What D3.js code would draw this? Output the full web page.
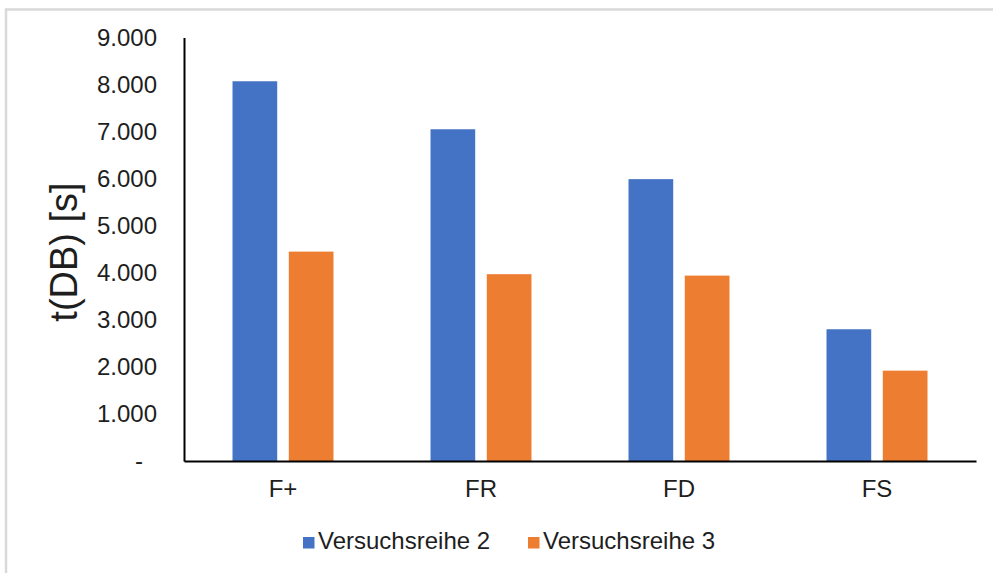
<!DOCTYPE html>
<html>
<head>
<meta charset="utf-8">
<script src="https://cdn.jsdelivr.net/npm/d3@7"></script>
<style>
  html, body { margin: 0; padding: 0; background: #fff; }
  svg { display: block; }
  text { font-family: "Liberation Sans", Arial, sans-serif; fill: #1e1e1e; }
</style>
</head>
<body>
<svg id="chart" width="993" height="573"></svg>
<script>
const categories = ["F+", "FR", "FD", "FS"];
const seriesNames = ["Versuchsreihe 2", "Versuchsreihe 3"];
const versuchsreihe2 = [8070, 7050, 5990, 2800];
const versuchsreihe3 = [4450, 3970, 3940, 1920];
const tickValues = [0, 1000, 2000, 3000, 4000, 5000, 6000, 7000, 8000, 9000];
const tickLabels = ["-", "1.000", "2.000", "3.000", "4.000", "5.000", "6.000", "7.000", "8.000", "9.000"];
const colors = ["#4472C4", "#ED7D31"];
const yTitle = "t(DB) [s]";

const seriesValues = [versuchsreihe2, versuchsreihe3];

const svg = d3.select("#chart");

// outer chart border
svg.append("rect")
  .attr("x", 6).attr("y", 9.5)
  .attr("width", 1100).attr("height", 700)
  .attr("fill", "none")
  .attr("stroke", "#d9d9d9")
  .attr("stroke-width", 2.5);

const plotLeft = 184, plotRight = 976, plotTop = 37.5, plotBottom = 461;

const y = d3.scaleLinear().domain([0, 9000]).range([plotBottom, plotTop]);
const x0 = d3.scaleBand().domain(categories).range([plotLeft, plotRight])
  .paddingInner(0.49).paddingOuter(0.245);
const x1 = d3.scaleBand().domain(seriesNames).range([0, x0.bandwidth()])
  .paddingInner(0.206).paddingOuter(0);

// bars
const groups = svg.append("g").selectAll("g")
  .data(categories)
  .join("g")
  .attr("transform", d => `translate(${x0(d)},0)`);

groups.selectAll("rect")
  .data((c, i) => seriesNames.map((s, j) => ({ s, j, v: seriesValues[j][i] })))
  .join("rect")
  .attr("x", d => x1(d.s))
  .attr("y", d => y(d.v))
  .attr("width", x1.bandwidth())
  .attr("height", d => y(0) - y(d.v))
  .attr("fill", d => colors[d.j]);

// y axis
const yAxis = d3.axisLeft(y)
  .tickValues(tickValues)
  .tickFormat((d, i) => tickLabels[i])
  .tickSize(0)
  .tickPadding(27);

const gy = svg.append("g")
  .attr("transform", `translate(${plotLeft},0)`)
  .call(yAxis);
gy.select(".domain").attr("stroke", "#000").attr("stroke-width", 2);
gy.selectAll(".tick text")
  .style("font-size", "24px")
  .attr("fill", "#1e1e1e")
  .attr("dx", (d) => d === 0 ? -14 : 0);

// x axis
const xAxis = d3.axisBottom(x0).tickSize(0).tickPadding(19);
const gx = svg.append("g")
  .attr("transform", `translate(0,${plotBottom})`)
  .call(xAxis);
gx.select(".domain").attr("stroke", "#000").attr("stroke-width", 2);
gx.selectAll(".tick text")
  .style("font-size", "24px")
  .attr("fill", "#1e1e1e");

// y title
svg.append("text")
  .attr("transform", `translate(77,252) rotate(-90)`)
  .attr("text-anchor", "middle")
  .style("font-size", "38px")
  .text(yTitle);

// legend
const legendX = [303, 528];
const legend = svg.append("g").selectAll("g")
  .data(seriesNames)
  .join("g")
  .attr("transform", (d, i) => `translate(${legendX[i]},537)`);
legend.append("rect")
  .attr("width", 11.5).attr("height", 11.5)
  .attr("fill", (d, i) => colors[i]);
legend.append("text")
  .attr("x", 15).attr("y", 12)
  .style("font-size", "24px")
  .text(d => d);
</script>
</body>
</html>
